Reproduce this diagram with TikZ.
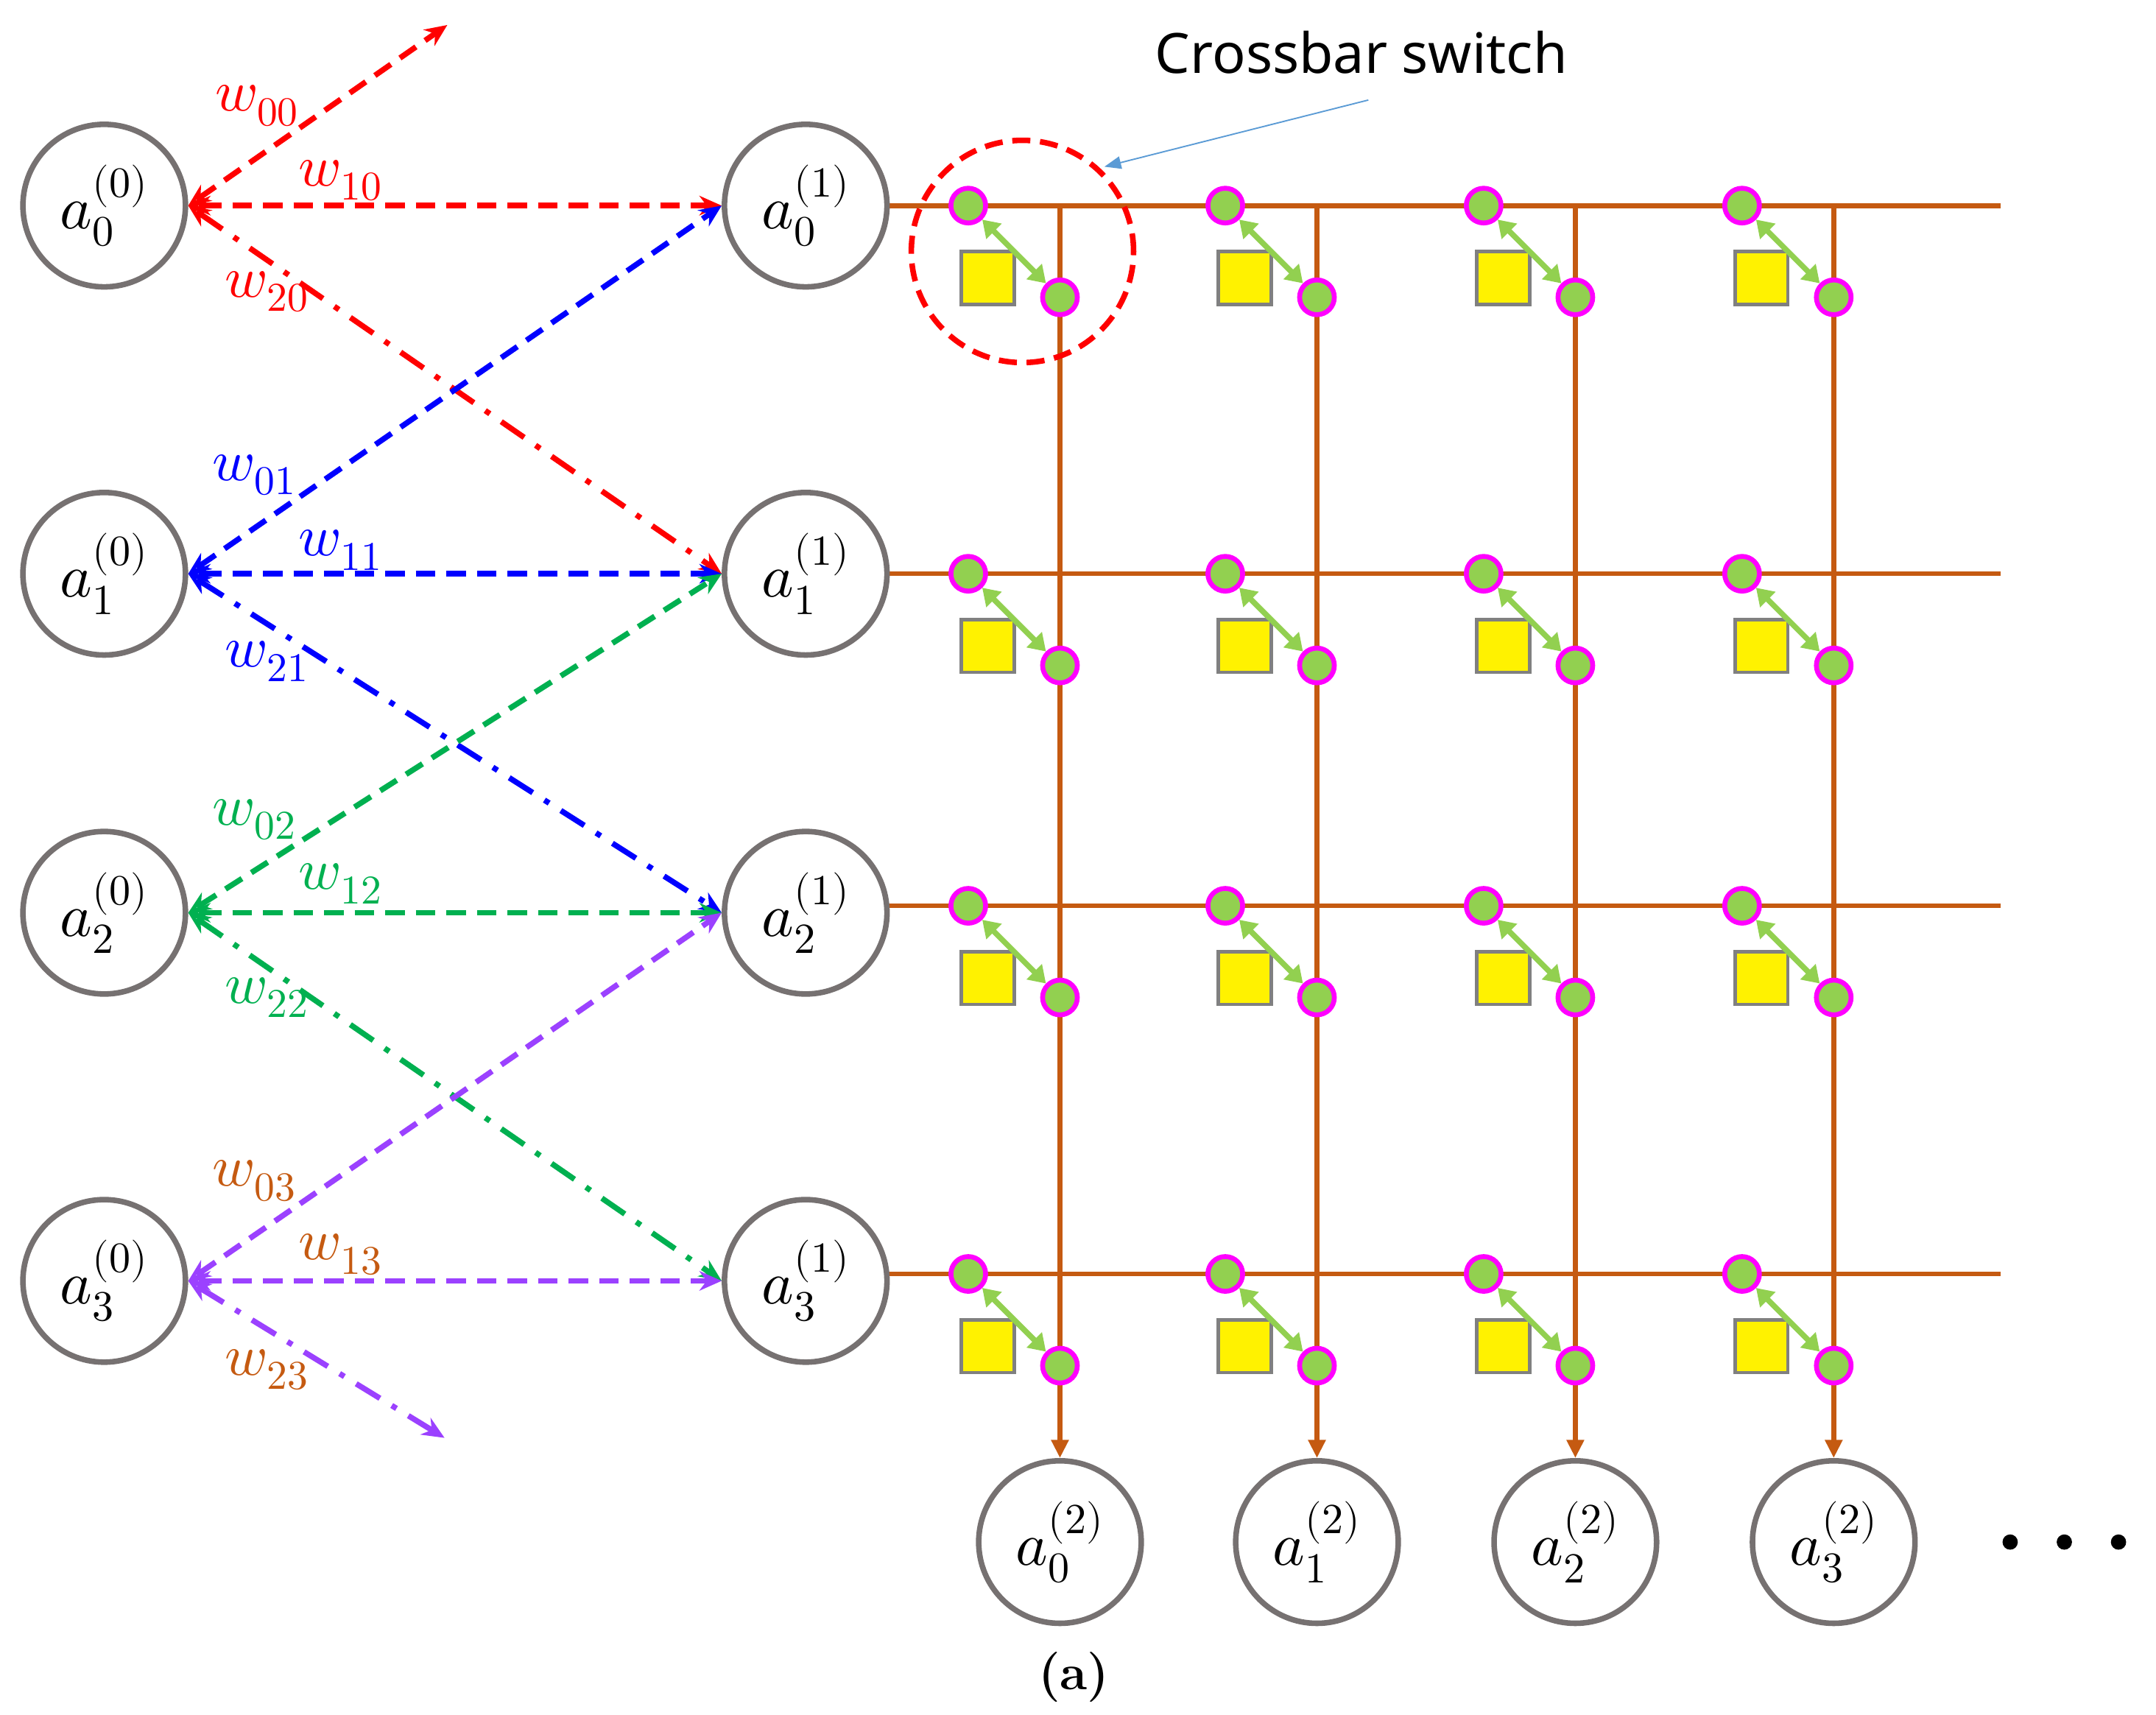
\documentclass[tikz,border=0pt]{standalone}
\usepackage{fontspec}
\usepackage{unicode-math}
\setmathfont{Latin Modern Math}
\newfontfamily\sansf{Noto Sans}
\usetikzlibrary{arrows.meta}
\definecolor{orng}{RGB}{197,90,17}
\definecolor{grn}{RGB}{0,176,80}
\definecolor{prp}{RGB}{155,65,255}
\definecolor{lgrn}{RGB}{146,208,80}
\definecolor{mag}{RGB}{255,0,255}
\definecolor{gry}{RGB}{118,113,113}
\definecolor{lblue}{RGB}{91,155,213}
\begin{document}
\begin{tikzpicture}[x=1pt,y=-1pt,
  neuron/.style={circle,draw=gry,line width=4pt,minimum size=117pt,inner sep=0pt,fill=white,font=\fontsize{44}{50}\selectfont},
  wire/.style={orng,line width=3.5pt},
  dot/.style={circle,draw=mag,fill=lgrn,line width=3.5pt,minimum size=25pt,inner sep=0pt},
  sq/.style={draw=gray,fill=yellow,line width=2.5pt,minimum size=38pt,inner sep=0pt},
  ed/.style={line width=4pt,dash pattern=on 14pt off 8pt,{Stealth[length=16pt,width=14pt,open]}-{Stealth[length=16pt,width=14pt]}},
  edd/.style={line width=4pt,dash pattern=on 20pt off 10pt on 4pt off 10pt,{Stealth[length=16pt,width=14pt,open]}-{Stealth[length=16pt,width=14pt]}},
  wl/.style={font=\fontsize{42}{48}\selectfont}]
\useasboundingbox (0,0) rectangle (1552,1234);
\foreach \y in {148,413,652,917}{\draw[wire] (640,\y) -- (1440,\y);}
\foreach \x [count=\i from 0] in {763,948,1134,1320}{
  \node[neuron] (c\i) at (\x,1110) {$a_{\i}^{(2)}$};
  \coordinate (t\i) at (\x,148);
  \draw[wire,-{Triangle[length=13pt,width=12pt]}] (t\i) -- (c\i.north);
  \foreach \y [count=\j] in {148,413,652,917}{
    \node[dot] (u\i\j) at (\x-66,\y) {};
    \node[dot] (v\i\j) at (\x,\y+66) {};
    \node[sq] (s\i\j) at (\x-52,\y+52) {};
    \draw[lgrn,line width=4pt,{Triangle[length=12pt,width=15pt]}-{Triangle[length=12pt,width=15pt]}] (u\i\j) -- (v\i\j);
  }
}
\foreach \y [count=\i from 0] in {148,413,657,922}{
  \node[neuron] (n\i) at (75,\y) {$a_{\i}^{(0)}$};
  \node[neuron] (m\i) at (580,\y) {$a_{\i}^{(1)}$};
}
\coordinate (top) at (322,18);
\coordinate (bot) at (320,1035);
\draw[ed,red] (n0.east) -- (top);
\draw[ed,red] (n0.east) -- (m0.west);
\draw[edd,red] (n0.east) -- (m1.west);
\draw[ed,blue] (n1.east) -- (m0.west);
\draw[ed,blue] (n1.east) -- (m1.west);
\draw[edd,blue] (n1.east) -- (m2.west);
\draw[ed,grn] (n2.east) -- (m1.west);
\draw[ed,grn] (n2.east) -- (m2.west);
\draw[edd,grn] (n2.east) -- (m3.west);
\draw[ed,prp] (n3.east) -- (m2.west);
\draw[ed,prp] (n3.east) -- (m3.west);
\draw[edd,prp] (n3.east) -- (bot);
\node[wl,red] (w00) at (185,76) {$w_{00}$};
\node[wl,red] (w10) at (245,130) {$w_{10}$};
\node[wl,red] (w20) at (192,210) {$w_{20}$};
\node[wl,blue] (w01) at (183,342) {$w_{01}$};
\node[wl,blue] (w11) at (245,396) {$w_{11}$};
\node[wl,blue] (w21) at (192,476) {$w_{21}$};
\node[wl,grn] (w02) at (183,590) {$w_{02}$};
\node[wl,grn] (w12) at (245,636) {$w_{12}$};
\node[wl,grn] (w22) at (192,718) {$w_{22}$};
\node[wl,orng] (w03) at (183,850) {$w_{03}$};
\node[wl,orng] (w13) at (245,903) {$w_{13}$};
\node[wl,orng] (w23) at (192,986) {$w_{23}$};
\node[circle,draw=red,line width=4pt,dash pattern=on 13pt off 7pt,minimum size=160pt] (cs) at (736,181) {};
\node[font=\sansf\fontsize{40}{46}\selectfont] (lab) at (980,38) {Crossbar switch};
\coordinate (lp) at (985,72);
\draw[lblue,line width=1pt,-{Triangle[length=12pt,width=9pt]}] (lp) -- (795,120);
\foreach \x [count=\k] in {1447,1486,1525}{\node[circle,fill=black,minimum size=11pt,inner sep=0pt] (d\k) at (\x,1110) {};}
\node[font=\fontsize{36}{42}\selectfont\bfseries] (cap) at (773,1207) {(a)};
\end{tikzpicture}
\end{document}
